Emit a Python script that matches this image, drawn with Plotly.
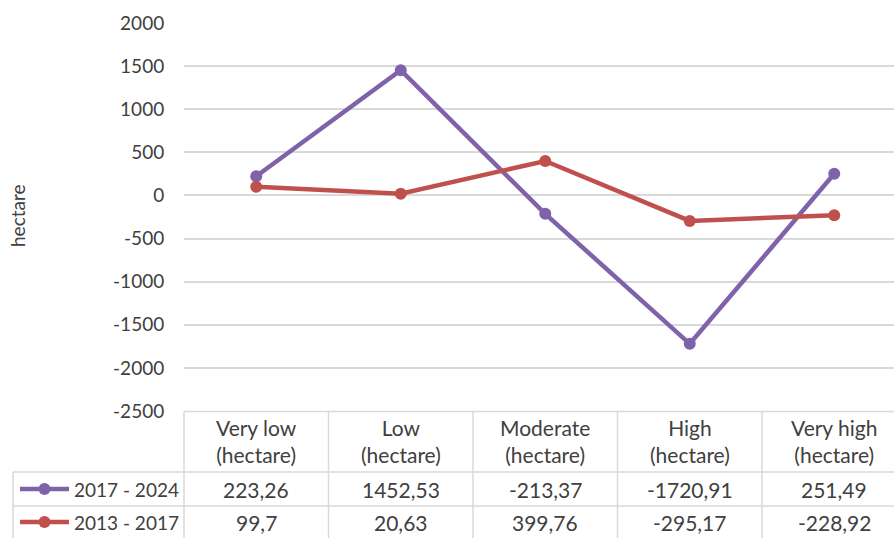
import plotly.graph_objects as go

# Land-cover change by class (hectare)
categories = ["Very low", "Low", "Moderate", "High", "Very high"]
series_names = ["2017 - 2024", "2013 - 2017"]
values_2017_2024 = [223.26, 1452.53, -213.37, -1720.91, 251.49]
values_2013_2017 = [99.7, 20.63, 399.76, -295.17, -228.92]
y_ticks = [2000, 1500, 1000, 500, 0, -500, -1000, -1500, -2000, -2500]

colors = ["#7F63AA", "#C0504D"]
series_values = [values_2017_2024, values_2013_2017]

W, H = 894, 538
FONT = "Lato"
TXT = "#404040"
GRID = "#D9D9D9"
TICK_SIZE = 19
TABLE_SIZE = 21
KEY_SIZE = 19


def px(x):
    return x / W


def py(y):
    return 1 - y / H


def fmt(v):
    return str(v).replace(".", ",")


fig = go.Figure()
xs = list(range(len(categories)))
for name, vals, col in zip(series_names, series_values, colors):
    fig.add_trace(go.Scatter(
        x=xs, y=vals, name=name, mode="lines+markers",
        line=dict(color=col, width=4.5),
        marker=dict(color=col, size=12),
        showlegend=False, cliponaxis=False,
    ))

# plot area: left edge at 184 px, 144.5 px per category, cropped at the right
left_px, step = 184.0, 144.5
x_right = (W - left_px) / step - 0.5

fig.update_layout(
    width=W, height=H,
    margin=dict(l=0, r=0, t=0, b=0),
    paper_bgcolor="white", plot_bgcolor="white",
    font=dict(family=FONT, size=TICK_SIZE, color=TXT),
    xaxis=dict(domain=[px(left_px), 1], range=[-0.5, x_right],
               showticklabels=False, showgrid=False, zeroline=False,
               showline=False),
    yaxis=dict(domain=[py(411), py(23)], range=[-2500, 2000],
               tickvals=y_ticks, ticktext=[str(t) for t in y_ticks],
               ticks="outside", ticklen=15, tickcolor="rgba(0,0,0,0)",
               tickfont=dict(family=FONT, size=TICK_SIZE, color=TXT),
               showgrid=True, gridcolor=GRID, gridwidth=1.5,
               zeroline=False, showline=False, automargin=False),
)

shapes = []
ann = []

# y-axis title
ann.append(dict(x=px(18), y=py(216), xref="paper", yref="paper",
                xanchor="center", yanchor="middle",
                text="hectare", textangle=-90, showarrow=False,
                font=dict(family=FONT, size=TICK_SIZE, color=TXT)))

# data table borders
line = dict(color=GRID, width=1.5)
shapes.append(dict(type="line", xref="paper", yref="paper",
                   x0=px(left_px), x1=1, y0=py(411.5), y1=py(411.5), line=line))
for yy in (472, 506):
    shapes.append(dict(type="line", xref="paper", yref="paper",
                       x0=px(13), x1=1, y0=py(yy), y1=py(yy), line=line))
shapes.append(dict(type="line", xref="paper", yref="paper",
                   x0=px(13), x1=px(13), y0=py(472), y1=0, line=line))
for i in range(len(categories)):
    xb = left_px + i * step
    shapes.append(dict(type="line", xref="paper", yref="paper",
                       x0=px(xb), x1=px(xb), y0=py(411.5), y1=0, line=line))

# header row: category names
for i, c in enumerate(categories):
    ann.append(dict(x=i, y=py(440.5), xref="x", yref="paper",
                    xanchor="center", yanchor="middle",
                    text=f"{c}<br>(hectare)", showarrow=False,
                    align="center",
                    font=dict(family=FONT, size=TABLE_SIZE, color=TXT)))

# value rows with legend keys
row_y = [489, 522]
for name, vals, col, ry in zip(series_names, series_values, colors, row_y):
    shapes.append(dict(type="line", xref="paper", yref="paper",
                       x0=px(20), x1=px(69), y0=py(ry), y1=py(ry),
                       line=dict(color=col, width=4.5)))
    shapes.append(dict(type="circle", xref="paper", yref="paper",
                       x0=px(38.5), x1=px(50.5), y0=py(ry - 6), y1=py(ry + 6),
                       fillcolor=col, line=dict(color=col, width=0)))
    ann.append(dict(x=px(72), y=py(ry), xref="paper", yref="paper",
                    text=name, showarrow=False,
                    xanchor="left", yanchor="middle",
                    font=dict(family=FONT, size=KEY_SIZE, color=TXT)))
    for i, v in enumerate(vals):
        ann.append(dict(x=i, y=py(ry), xref="x", yref="paper",
                        xanchor="center", yanchor="middle",
                        text=fmt(v), showarrow=False,
                        font=dict(family=FONT, size=TABLE_SIZE, color=TXT)))

fig.update_layout(shapes=shapes, annotations=ann)
fig.write_html("out.html")
